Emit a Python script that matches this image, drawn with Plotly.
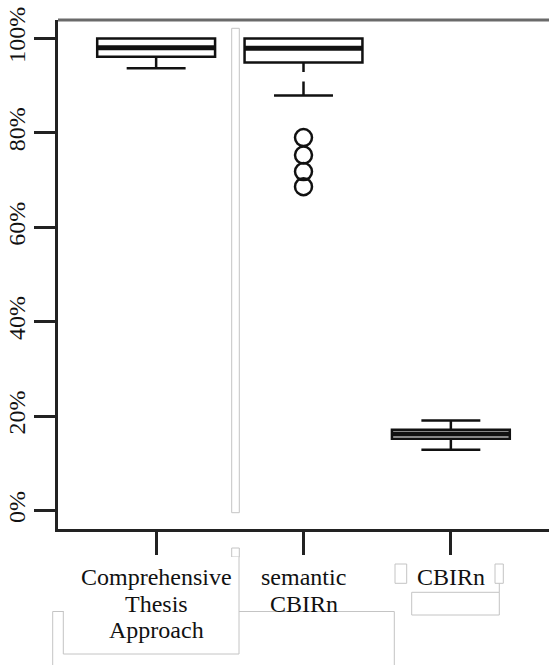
import plotly.graph_objects as go

# ---- data (percent) ----
categories = ["Comprehensive Thesis Approach", "semantic CBIRn", "CBIRn"]
tick_label_lines = [["Comprehensive", "Thesis", "Approach"], ["semantic", "CBIRn"], ["CBIRn"]]
q1_vals = [96.1, 94.9, 15.2]
median_vals = [98.0, 97.9, 16.2]
q3_vals = [100.0, 100.0, 17.1]
lower_whisker = [93.7, 87.9, 12.9]
upper_whisker = [100.0, 100.0, 19.1]
outlier_category = [1, 1, 1, 1]
outlier_vals = [79.0, 75.3, 71.8, 68.6]
y_tick_vals = [0, 20, 40, 60, 80, 100]
y_tick_text = ["0%", "20%", "40%", "60%", "80%", "100%"]

# ---- style ----
FONT = "Liberation Serif"
BOX_W = 0.8
W, H = 549, 665
ML, MR, MT, MB = 58, 0, 20, 136

positions = list(range(len(categories)))

fig = go.Figure()
fig.add_trace(go.Box(
    x=positions, q1=q1_vals, median=median_vals, q3=q3_vals,
    lowerfence=lower_whisker, upperfence=upper_whisker,
    width=BOX_W, whiskerwidth=0.5, boxpoints=False,
    fillcolor="white", line=dict(color="#111111", width=2.5),
    showlegend=False, hoverinfo="skip"))

# thick median lines (R style)
mx, my = [], []
for p, m in zip(positions, median_vals):
    mx += [p - BOX_W / 2, p + BOX_W / 2, None]
    my += [m, m, None]
fig.add_trace(go.Scatter(x=mx, y=my, mode="lines",
                         line=dict(color="#111111", width=5),
                         showlegend=False, hoverinfo="skip"))

# outliers
fig.add_trace(go.Scatter(x=outlier_category, y=outlier_vals, mode="markers",
                         marker=dict(symbol="circle-open", size=17,
                                     color="#111111", line=dict(width=2.5)),
                         showlegend=False, hoverinfo="skip"))

pw = W - ML - MR
ph = H - MT - MB


def px_x(x):
    return (x - ML) / pw


def px_y(y):
    return (H - MB - y) / ph


shapes = []
GRAY = "#c4c4c4"


def rect(x0, y0, x1, y1, fill="white", line=GRAY, lw=1):
    shapes.append(dict(type="rect", xref="paper", yref="paper",
                       x0=px_x(x0), x1=px_x(x1), y0=px_y(y1), y1=px_y(y0),
                       fillcolor=fill, line=dict(color=line, width=lw), layer="above"))


def seg(x0, y0, x1, y1, color=GRAY, width=1):
    shapes.append(dict(type="line", xref="paper", yref="paper",
                       x0=px_x(x0), x1=px_x(x1), y0=px_y(y0), y1=px_y(y1),
                       line=dict(color=color, width=width), layer="above"))


# top frame line (grey)
shapes.append(dict(type="line", xref="paper", yref="paper", x0=0, x1=1, y0=1, y1=1,
                   line=dict(color="#6a6a6a", width=3), layer="above"))

# scanning artefacts (outlined boxes, whisker gap)
rect(231.7, 28.3, 239.3, 512.7)
rect(231.7, 548, 239.3, 557)
rect(298, 72, 316, 81.5, fill="white", line="white", lw=0)
rect(52.7, 611.5, 394.3, 700)
shapes.append(dict(type="rect", xref="paper", yref="paper",
                   x0=px_x(63.3), x1=px_x(239), y0=px_y(654), y1=px_y(557),
                   fillcolor="white", line=dict(width=0), layer="above"))
seg(63.3, 611, 63.3, 654)
seg(63.3, 654, 239, 654)
seg(239, 557, 239, 654)
rect(395, 564, 406.7, 583.3)
rect(495, 564, 503.3, 583.3)
rect(411.7, 592.3, 499.3, 615)
seg(499.3, 583.3, 499.3, 592.3)

# category labels, one annotation per line
annotations = []
for p, lines in zip(positions, tick_label_lines):
    for j, t in enumerate(lines):
        annotations.append(dict(x=p, xref="x", y=0, yref="paper", text=t,
                                showarrow=False, xanchor="center", yanchor="top",
                                yshift=-33 - 26.6 * j,
                                font=dict(family=FONT, size=24, color="#111111")))

fig.update_layout(
    width=W, height=H,
    margin=dict(l=ML, r=MR, t=MT, b=MB, autoexpand=False),
    paper_bgcolor="white", plot_bgcolor="white",
    font=dict(family=FONT, size=24, color="#111111"),
    shapes=shapes, annotations=annotations,
)
fig.update_xaxes(range=[-0.666, 2.666], tickvals=positions, showticklabels=False,
                 ticks="outside", ticklen=23, tickwidth=2.5, tickcolor="#222222",
                 showline=True, linecolor="#222222", linewidth=2.5,
                 showgrid=False, zeroline=False)
fig.update_yaxes(range=[-3.9, 103.9], tickmode="array", tickvals=y_tick_vals,
                 ticktext=y_tick_text, tickangle=-90, ticks="outside", ticklen=21,
                 tickwidth=2.5, tickcolor="#222222", showline=True,
                 linecolor="#222222", linewidth=2.5, showgrid=False, zeroline=False,
                 tickfont=dict(family=FONT, size=24, color="#111111"))

fig.write_html("out.html", config={"displayModeBar": False},
               post_script="document.body.style.margin='0';")
